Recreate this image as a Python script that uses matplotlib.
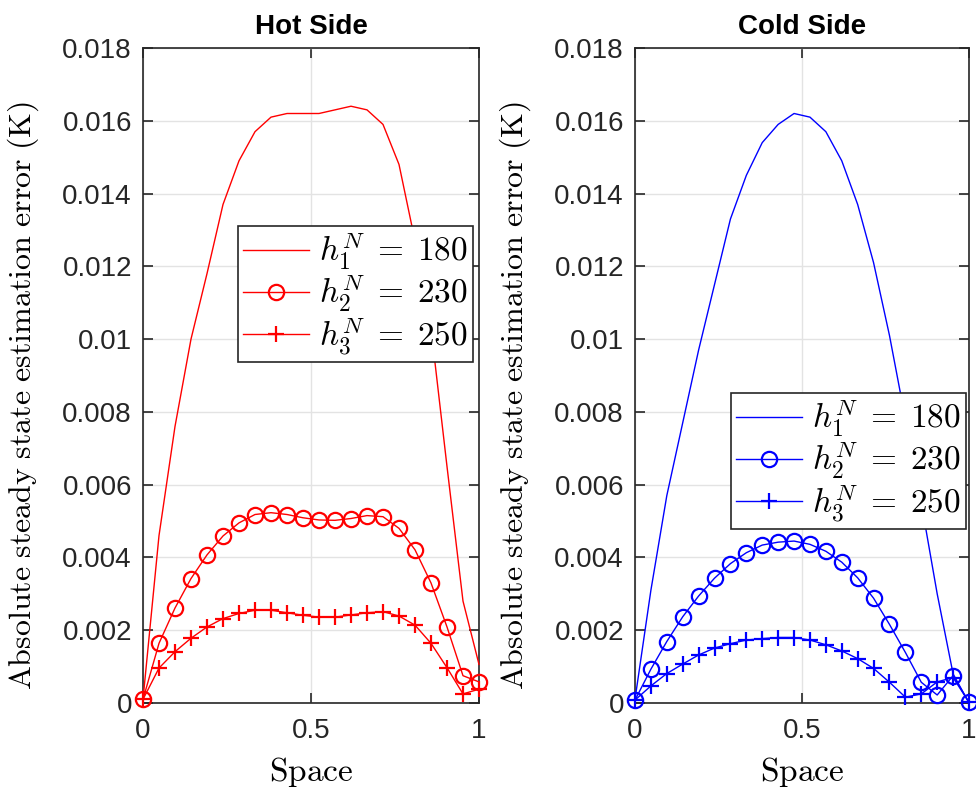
import numpy as np
import matplotlib
matplotlib.use("Agg")
import matplotlib.pyplot as plt

plt.rcParams['mathtext.fontset'] = 'cm'
plt.rcParams['font.family'] = ['Liberation Sans', 'DejaVu Sans']

space = np.linspace(0, 1, 22)

hot_180 = [0.0001, 0.0046, 0.0076, 0.0100, 0.0118, 0.0137, 0.0149, 0.0157, 0.0161, 0.0162, 0.0162,
           0.0162, 0.0163, 0.0164, 0.0163, 0.0159, 0.0148, 0.0127, 0.0103, 0.0065, 0.0028, 0.00106]
hot_230 = [0.0001, 0.00164, 0.00261, 0.00342, 0.00407, 0.00459, 0.00495, 0.00518, 0.00523, 0.00518, 0.00509,
           0.00503, 0.00502, 0.00507, 0.00515, 0.00512, 0.00480, 0.00421, 0.0033, 0.00209, 0.00075, 0.00058]
hot_250 = [0.0001, 0.00096, 0.00141, 0.00178, 0.00209, 0.00232, 0.00246, 0.00255, 0.00255, 0.00248, 0.00241,
           0.00236, 0.00236, 0.00242, 0.00248, 0.00251, 0.00239, 0.00214, 0.00164, 0.00097, 0.00025, 0.00038]

cold_180 = [0.0001, 0.0031, 0.0057, 0.0077, 0.0097, 0.0115, 0.0133, 0.0145, 0.0154, 0.0159, 0.0162,
            0.0161, 0.0157, 0.0149, 0.0137, 0.0121, 0.0101, 0.0078, 0.0055, 0.0030, 0.0008, 0.0]
cold_230 = [0.00008, 0.00093, 0.00169, 0.00237, 0.00294, 0.00343, 0.00383, 0.00413, 0.00434, 0.00442, 0.00445,
            0.00436, 0.00417, 0.00387, 0.00344, 0.00288, 0.00216, 0.00139, 0.00057, 0.00022, 0.00075, 0.00002]
cold_250 = [0.00008, 0.00047, 0.00081, 0.00107, 0.00132, 0.00151, 0.00163, 0.00173, 0.00177, 0.0018, 0.0018,
            0.00173, 0.0016, 0.00143, 0.00122, 0.00095, 0.00057, 0.00016, 0.00025, 0.00058, 0.0007, 0.00002]

labels = [r'$h_1^N \;=\; 180$', r'$h_2^N \;=\; 230$', r'$h_3^N \;=\; 250$']
titles = ['Hot Side', 'Cold Side']
yticks = [0, 0.002, 0.004, 0.006, 0.008, 0.01, 0.012, 0.014, 0.016, 0.018]
yticklabels = ['0', '0.002', '0.004', '0.006', '0.008', '0.01', '0.012', '0.014', '0.016', '0.018']
xticks = [0, 0.5, 1]
xticklabels = ['0', '0.5', '1']

W, H = 976, 791
fig = plt.figure(figsize=(W / 100, H / 100), dpi=100)

def px_axes(x0, x1, y0, y1):
    return fig.add_axes([x0 / W, 1 - y1 / H, (x1 - x0) / W, (y1 - y0) / H])

ax_hot = px_axes(143, 479, 48, 703)
ax_cold = px_axes(635, 969, 48, 703)

series = [
    (ax_hot, (1, 0, 0), [hot_180, hot_230, hot_250], (473, 226)),
    (ax_cold, (0, 0, 1), [cold_180, cold_230, cold_250], (966, 393)),
]

for i, (ax, col, data, legpos) in enumerate(series):
    ax.plot(space, data[0], '-', color=col, lw=1.0, clip_on=False, label=labels[0], zorder=3)
    ax.plot(space, data[1], '-o', color=col, lw=1.0, ms=11, mfc='none', mew=1.6,
            clip_on=False, label=labels[1], zorder=3)
    ax.plot(space, data[2], '-+', color=col, lw=1.0, ms=12, mew=1.6,
            clip_on=False, label=labels[2], zorder=3)
    ax.set_xlim(0, 1)
    ax.set_ylim(0, 0.018)
    ax.set_xticks(xticks)
    ax.set_xticklabels(xticklabels)
    ax.set_yticks(yticks)
    ax.set_yticklabels(yticklabels)
    ax.grid(True, color='#e3e3e3', lw=1.0)
    ax.set_axisbelow(True)
    for s in ax.spines.values():
        s.set_color('#262626')
        s.set_linewidth(1.2)
    ax.tick_params(direction='in', length=7, width=1.2, colors='#262626',
                   labelsize=20, top=True, right=True, pad=8)
    ax.tick_params(axis='x', pad=11)
    ax.set_title(titles[i], fontsize=20, fontweight='bold', pad=10)
    ax.set_xlabel(r'$\mathrm{Space}$', fontsize=24)
    ax.xaxis.set_label_coords(0.5, -0.079)
    ax.set_ylabel(r'$\mathrm{Absolute\ steady\ state\ estimation\ error\ (K)}$',
                  fontsize=23)
    ax.yaxis.set_label_coords(-0.305, 0.47)
    leg = ax.legend(loc='upper right', bbox_to_anchor=(legpos[0] / W, 1 - legpos[1] / H),
                    bbox_transform=fig.transFigure, borderaxespad=0, fontsize=24,
                    fancybox=False, framealpha=1, edgecolor='#262626',
                    handlelength=2.0, handletextpad=0.3, labelspacing=0.02,
                    borderpad=0.15)
    leg.get_frame().set_linewidth(1.2)

fig.savefig('out.png', dpi=100)
